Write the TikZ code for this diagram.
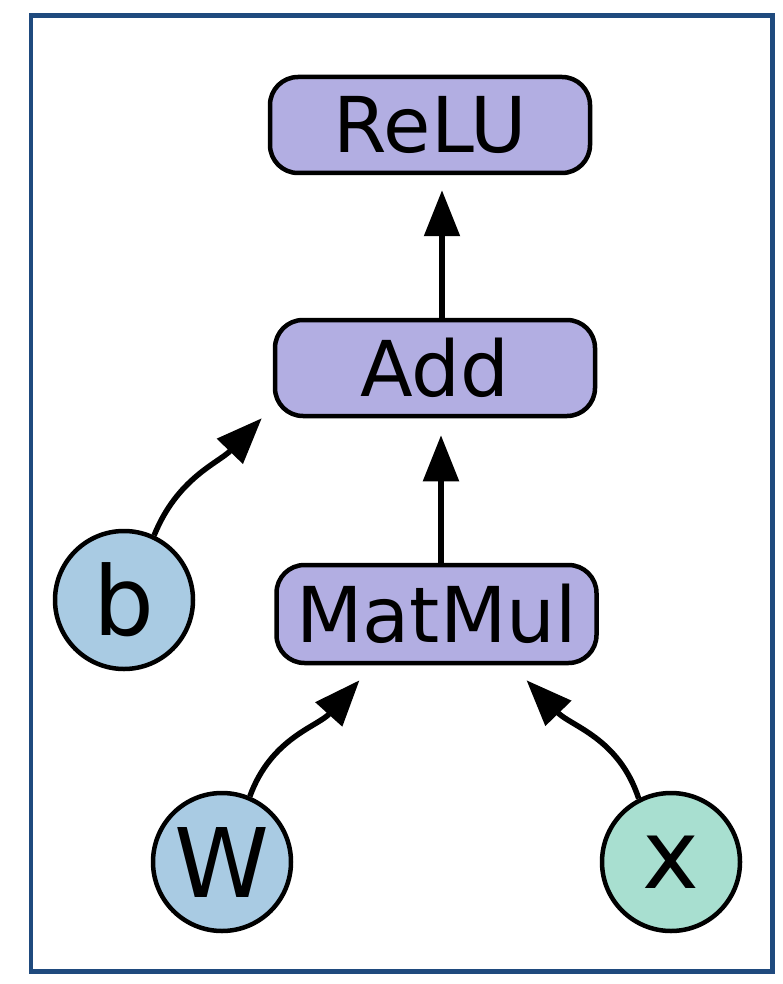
\documentclass[tikz,border=0pt]{standalone}
\usepackage{fontspec}
\setmainfont{DejaVu Sans}
\usetikzlibrary{arrows.meta}

\definecolor{framecol}{HTML}{1F4A7E}
\definecolor{opfill}{HTML}{B2AEE2}
\definecolor{paramfill}{HTML}{A9CBE3}
\definecolor{inputfill}{HTML}{A8DFD0}

\tikzset{
  opbox/.style={draw=black, line width=4.5pt, fill=opfill, rounded corners=28pt,
    minimum width=320pt, minimum height=96pt, inner sep=0pt,
    font=\fontsize{77}{80}\selectfont},
  varnode/.style={draw=black, line width=4.5pt, circle, minimum size=138pt, inner sep=0pt,
    font=\fontsize{96}{100}\selectfont},
  edge/.style={line width=5.5pt, -{Triangle[length=46pt,width=35pt]}},
}

\begin{document}
\begin{tikzpicture}[x=1pt, y=-1pt]
  % page area and frame
  \useasboundingbox (0,0) rectangle (782,984);
  \fill[white] (0,0) rectangle (782,984);
  \draw[framecol, line width=4.5pt] (31,15.5) rectangle (772.5,971.5);

  % operation nodes
  \node[opbox] (relu) at (430,125) {ReLU};
  \node[opbox] (add) at (435,368) {Add};
  \node[opbox, minimum height=98pt] (mm) at (436.5,614) {MatMul};

  % variables
  \node[varnode, fill=paramfill] (b) at (124,600) {b};
  \node[varnode, fill=paramfill] (W) at (222,862) {W};
  \node[varnode, fill=inputfill] (x) at (671,862) {x};

  % data flow
  \draw[edge, shorten >=15pt] ([xshift=7pt]add.north) -- ([xshift=12pt]relu.south);
  \draw[edge, shorten >=17pt] ([xshift=4.5pt]mm.north) -- ([xshift=6pt]add.south);
  \draw[edge] (b.65) to[out=68, in=226] ([xshift=-11pt]add.south west);
  \draw[edge] (W.67) to[out=70, in=228] ([shift={(-77pt,-15pt)}]mm.south);
  \draw[edge] (x.117) to[out=108, in=-46] ([shift={(90pt,-15pt)}]mm.south);
\end{tikzpicture}
\end{document}
